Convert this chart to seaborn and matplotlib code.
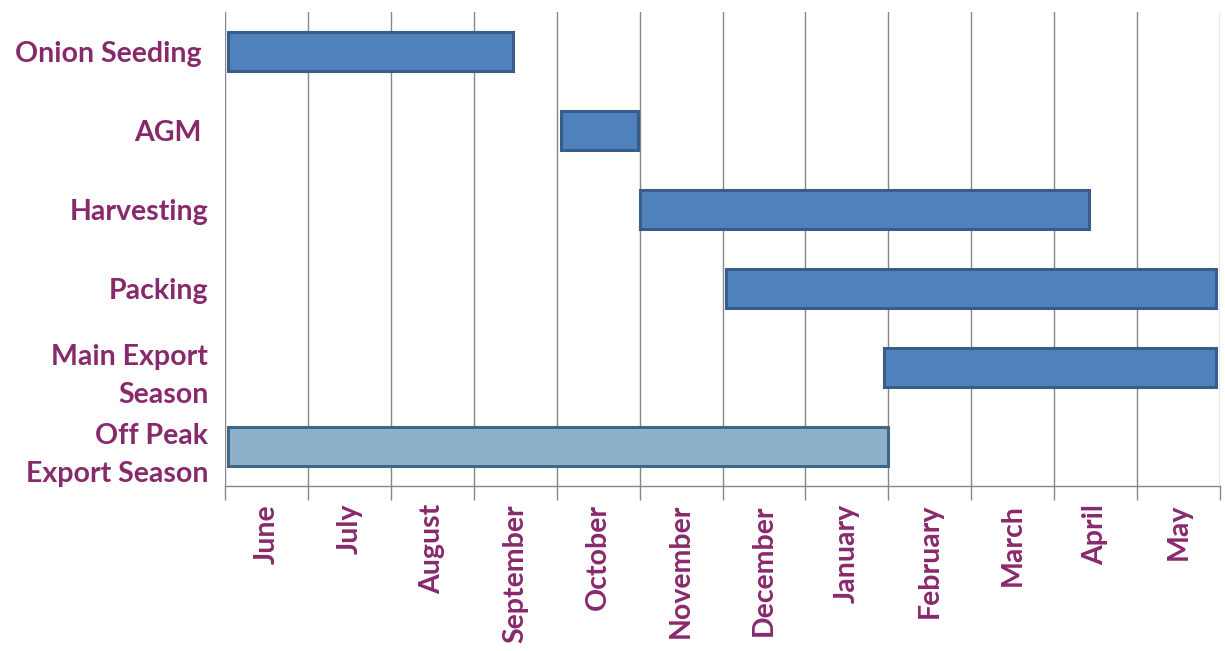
import matplotlib
matplotlib.use("Agg")
import matplotlib.pyplot as plt
import seaborn as sns
import numpy as np

tasks = ["Onion Seeding ", "AGM ", "Harvesting", "Packing", "Main Export\nSeason", "Off Peak\nExport Season"]
starts = [0.04, 4.05, 5.0, 6.04, 7.95, 0.04]
ends = [3.47, 4.98, 10.42, 11.95, 11.95, 8.0]
months = ["June", "July", "August", "September", "October", "November",
          "December", "January", "February", "March", "April", "May"]

sns.set_theme(style="white")
plt.rcParams['font.family'] = ['Lato', 'DejaVu Sans']

purple = "#88296C"
fills = ["#4F81BD"] * 5 + ["#8EB1CB"]
edges = ["#385D8A"] * 5 + ["#3F6787"]

fig = plt.figure(figsize=(12.25, 6.51), dpi=100)
ax = fig.add_axes([225/1225, 1 - 486/651, (1220-225)/1225, (486-12)/651])

y = np.arange(len(tasks))
widths = [e - s for s, e in zip(starts, ends)]
ax.barh(y, widths, left=starts, height=0.49, color=fills, edgecolor=edges, linewidth=2.2, zorder=3)

ax.set_ylim(len(tasks) - 0.5, -0.5)
ax.set_xlim(0, 12)
ax.set_yticks(y)
ax.set_yticklabels(tasks, fontsize=20.5, fontweight="bold", color=purple, ha="right", linespacing=1.55)
ax.tick_params(axis="y", length=0, pad=12)

ax.set_xticks(np.arange(0, 13))
ax.set_xticklabels([])
ax.set_xticks(np.arange(12) + 0.5, minor=True)
ax.set_xticklabels(months, minor=True, rotation=90, fontsize=20.5, fontweight="bold", color=purple, va="top")
ax.tick_params(axis="x", which="major", length=10, width=1, color="#868686", direction="out", bottom=True)
ax.tick_params(axis="x", which="minor", length=0, pad=13)

ax.grid(axis="x", which="major", color="#868686", linewidth=1, zorder=0)
ax.grid(axis="y", visible=False)
for side in ["top", "right", "left"]:
    ax.spines[side].set_visible(False)
ax.spines["bottom"].set_color("#868686")
ax.spines["bottom"].set_linewidth(1)

fig.savefig("out.png", dpi=100)
